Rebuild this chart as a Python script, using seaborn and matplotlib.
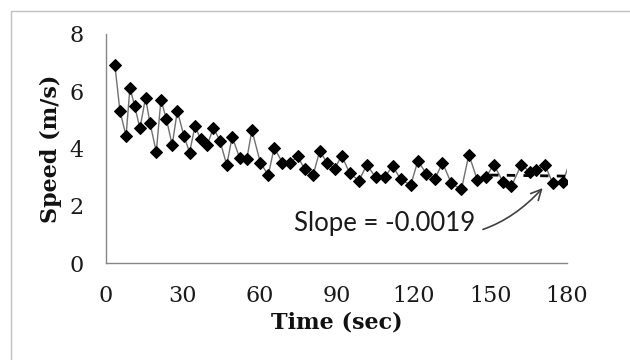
import numpy as np
import pandas as pd
import matplotlib
matplotlib.use('Agg')
import matplotlib.pyplot as plt
import seaborn as sns

# speed readings
time_sec = [3.5, 5.5, 7.9, 9.4, 11.3, 13.3, 15.5, 17.2, 19.7, 21.5,
            23.6, 25.9, 27.9, 30.5, 32.7, 34.8, 37.0, 39.6, 42.0, 44.6,
            47.2, 49.3, 52.2, 55.0, 57.0, 60.3, 63.4, 65.7, 68.9, 71.8,
            74.9, 77.6, 80.9, 83.5, 86.3, 89.3, 92.1, 95.2, 98.8, 101.9,
            105.3, 108.9, 111.9, 115.1, 119.0, 121.8, 125.1, 128.4, 131.4, 134.9,
            138.8, 141.7, 145.0, 148.3, 151.4, 155.0, 158.3, 162.2, 165.4, 168.0,
            171.3, 174.5, 178.4, 180.3]
speed = [6.93, 5.31, 4.44, 6.12, 5.47, 4.70, 5.77, 4.90, 3.88, 5.70,
         5.04, 4.12, 5.31, 4.43, 3.86, 4.79, 4.32, 4.12, 4.73, 4.25,
         3.42, 4.41, 3.68, 3.62, 4.64, 3.51, 3.07, 4.03, 3.51, 3.48,
         3.73, 3.27, 3.07, 3.92, 3.50, 3.30, 3.75, 3.13, 2.88, 3.44,
         2.99, 2.99, 3.40, 2.92, 2.72, 3.57, 3.12, 2.93, 3.50, 2.78,
         2.57, 3.79, 2.90, 2.99, 3.44, 2.84, 2.69, 3.44, 3.19, 3.25,
         3.44, 2.78, 2.84, 3.32]

x_ticks = [0, 30, 60, 90, 120, 150, 180]
y_ticks = [0, 2, 4, 6, 8]
slope_label = 'Slope = -0.0019'
fit_start = 150

df = pd.DataFrame({'time': time_sec, 'speed': speed})

sns.set_style('white')
plt.rcParams['font.family'] = ['DejaVu Serif']

fig = plt.figure(figsize=(6.3, 3.6), dpi=100)
ax = fig.add_axes([0.168, 0.269, 0.732, 0.637])

sns.lineplot(data=df, x='time', y='speed', ax=ax, color='#707070', linewidth=1.0,
             marker='D', markersize=6, markerfacecolor='black', markeredgecolor='black',
             markevery=list(range(len(df) - 1)), sort=False)

# linear trend over the last stretch
tail = df[df['time'] >= fit_start]
k, b = np.polyfit(tail['time'], tail['speed'], 1)
tx = np.array([fit_start, 183])
ax.plot(tx, k * tx + b - 0.07, color='black', linewidth=2.0, linestyle=(0, (3, 3)))

ax.set_xlim(0, 180)
ax.set_ylim(0, 8)
ax.set_xticks(x_ticks)
ax.set_yticks(y_ticks)
ax.tick_params(axis='both', direction='out', length=6, width=1, color='#868686',
               labelsize=16, labelcolor='#1a1a1a')
ax.tick_params(axis='y', pad=10)
ax.tick_params(axis='x', pad=10)
for side in ['top', 'right']:
    ax.spines[side].set_visible(False)
for side in ['left', 'bottom']:
    ax.spines[side].set_color('#868686')
    ax.spines[side].set_linewidth(1)

ax.set_xlabel('Time (sec)', fontsize=16, fontweight='bold', color='#111111', labelpad=3)
ax.set_ylabel('Speed (m/s)', fontsize=16, fontweight='bold', color='#111111', labelpad=5)

ax.annotate(slope_label, xy=(170.5, 2.62), xytext=(109, 1.4),
            ha='center', va='center', fontsize=18.5, family=['Lato', 'DejaVu Sans'],
            color='#1a1a1a',
            arrowprops=dict(arrowstyle='->', color='#404040', lw=1.2,
                            shrinkA=3, shrinkB=0, connectionstyle='arc3,rad=0.35'))

# chart area border (top and left visible)
fig.add_artist(plt.Line2D([11 / 630, 1], [1 - 11 / 360, 1 - 11 / 360],
                          transform=fig.transFigure, color='#c0c0c0', lw=1))
fig.add_artist(plt.Line2D([11 / 630, 11 / 630], [0, 1 - 11 / 360],
                          transform=fig.transFigure, color='#c0c0c0', lw=1))

fig.savefig('out.png', dpi=100)
